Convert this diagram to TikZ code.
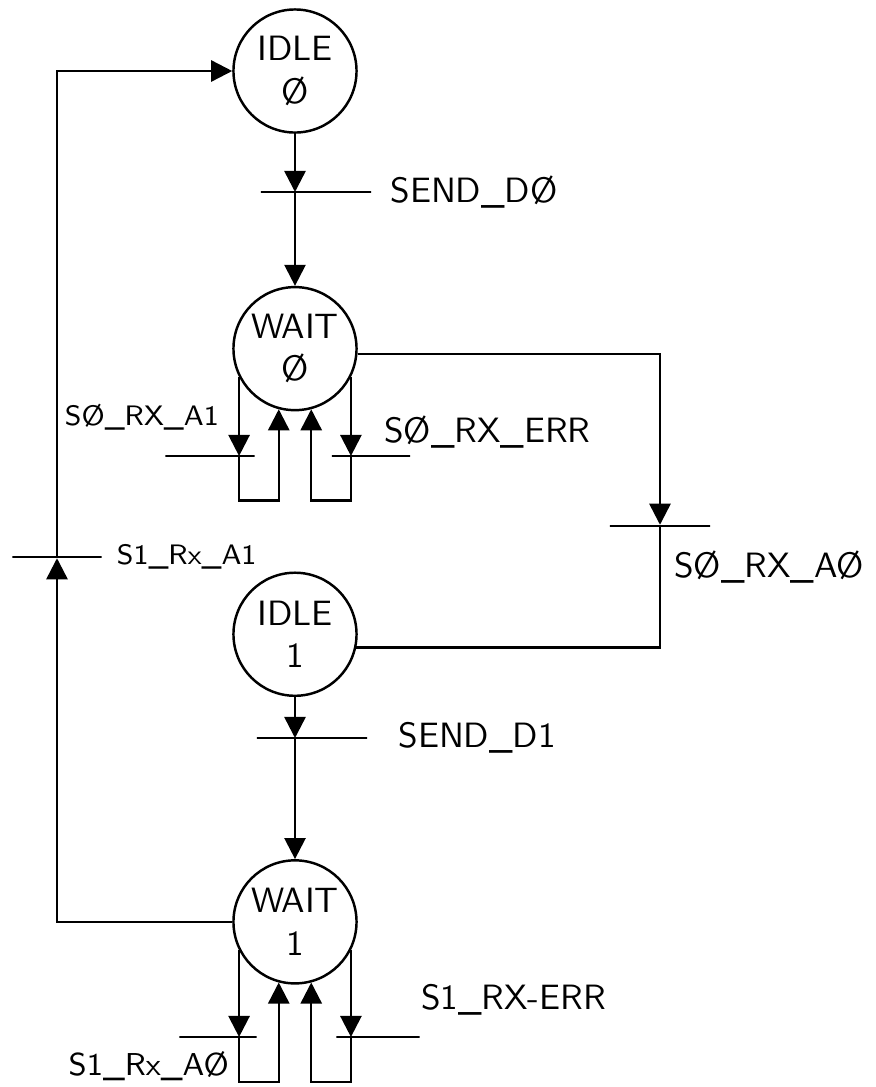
\documentclass[tikz,border=0pt]{standalone}
\usepackage{tikz}
\usetikzlibrary{positioning, arrows.meta, calc}
\tikzset{
    fsm/.style={draw, circle, minimum size=1.23cm, inner sep=0pt, align=center},
    tbar/.style={draw, minimum width=#1, minimum height=0pt, inner sep=0pt},
    lbl/.style={inner sep=0pt}
}

\begin{document}
\begin{tikzpicture}[
    x=0.01cm, y=-0.01cm,
    font=\sffamily,
    line width=0.7pt,
    >={Triangle[length=6pt, width=6pt]}
]
    \useasboundingbox (0,0) rectangle (876,1087);

    % States (top to bottom)
    \node[fsm] (idle0) at (295,71) {IDLE\\Ø};
    \node[fsm, below=1.52cm of idle0] (wait0) {WAIT\\Ø};
    \node[fsm, below=1.6cm of wait0] (idle1) {IDLE\\1};
    \node[fsm, below=1.62cm of idle1] (wait1) {WAIT\\1};

    % Transition bars
    \node[tbar=1.1cm] (t0) at (316,192) {};
    \node[tbar=0.89cm] (w0a) at (210,456) {};
    \node[tbar=0.78cm] (w0b) at (371,456) {};
    \node[tbar=1.0cm] (tr) at (660,526) {};
    \node[tbar=0.89cm] (tl) at (57,557) {};
    \node[tbar=1.1cm] (t1) at (312,738) {};
    \node[tbar=0.77cm] (w1a) at (218,1037) {};
    \node[tbar=0.83cm] (w1b) at (378,1037) {};

    \coordinate (w0bot) at ([yshift=-1.52cm]wait0.center);
    \coordinate (w1bot) at ([yshift=-1.6cm]wait1.center);

    % Main chain
    \draw[->] (idle0) -- (idle0 |- t0);
    \draw[->] (idle0 |- t0) -- (wait0);
    \draw[->] (idle1) -- (idle1 |- t1);
    \draw[->] (idle1 |- t1) -- (wait1);

    % WAIT 0 -> IDLE 1
    \draw[->] (wait0.-5) -| (tr);
    \draw (tr) |- (idle1.-12);

    % WAIT 1 -> IDLE 0
    \draw[->] (wait1) -| (tl);
    \draw[->] (tl) |- (idle0);

    % Self loops of WAIT 0
    \draw[->] (wait0.207) -- (wait0.207 |- w0a);
    \draw[->] (wait0.207 |- w0a) -- (wait0.207 |- w0bot) -| (wait0.255);
    \draw[->] (wait0.333) -- (wait0.333 |- w0b);
    \draw[->] (wait0.333 |- w0b) -- (wait0.333 |- w0bot) -| (wait0.285);

    % Self loops of WAIT 1
    \draw[->] (wait1.207) -- (wait1.207 |- w1a);
    \draw[->] (wait1.207 |- w1a) -- (wait1.207 |- w1bot) -| (wait1.255);
    \draw[->] (wait1.333) -- (wait1.333 |- w1b);
    \draw[->] (wait1.333 |- w1b) -- (wait1.333 |- w1bot) -| (wait1.285);

    % Transition labels
    \node[lbl, right=0.17cm of t0] {SEND\_DØ};
    \node[lbl, anchor=east, font=\sffamily\footnotesize] at (220,417) {SØ\_RX\_A1};
    \node[lbl, anchor=west] at (383,432) {SØ\_RX\_ERR};
    \node[lbl, anchor=west] at (673,567) {SØ\_RX\_AØ};
    \node[lbl, right=0.13cm of tl, font=\sffamily\footnotesize] {S1\_Rx\_A1};
    \node[lbl, right=0.29cm of t1] {SEND\_D1};
    \node[lbl, anchor=east, font=\sffamily\small] at (230,1066) {S1\_Rx\_AØ};
    \node[lbl, anchor=west] at (420,1000) {S1\_RX-ERR};
\end{tikzpicture}
\end{document}
